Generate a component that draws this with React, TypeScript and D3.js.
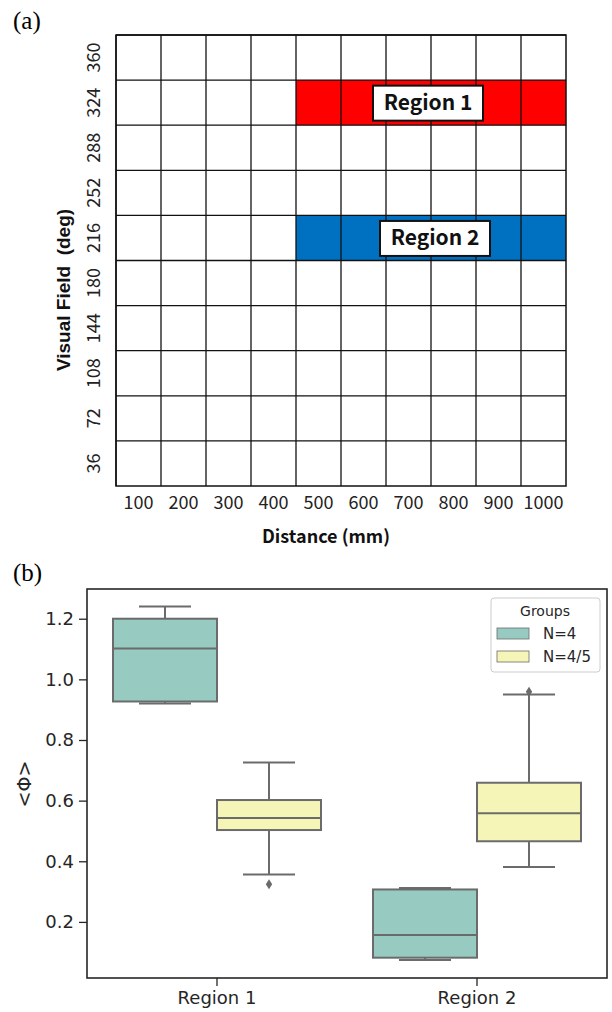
import React, { useEffect, useRef } from 'react';
import * as d3 from 'd3';

// panel (a): grid of distance x visual field
const distances = ['100', '200', '300', '400', '500', '600', '700', '800', '900', '1000'];
const fields = ['360', '324', '288', '252', '216', '180', '144', '108', '72', '36'];
const regions = [
  { name: 'Region 1', field: '324', from: '500', to: '1000', color: '#ff0000', labelAt: '800', shift: -3 },
  { name: 'Region 2', field: '216', from: '500', to: '1000', color: '#0070c0', labelAt: '800', shift: 4 },
];

// panel (b): box plot stats per region and group
const regionNames = ['Region 1', 'Region 2'];
const groups = ['N=4', 'N=4/5'];
const groupColors = ['#97cbc2', '#f5f5b8'];
const yTicks = [0.2, 0.4, 0.6, 0.8, 1.0, 1.2];
// [whiskerLow, q1, median, q3, whiskerHigh]
const statsN4 = [
  [0.92, 0.927, 1.102, 1.2, 1.24],
  [0.074, 0.082, 0.157, 0.307, 0.312],
];
const statsN45 = [
  [0.356, 0.503, 0.543, 0.602, 0.726],
  [0.381, 0.466, 0.558, 0.659, 0.95],
];
const outliersN4: number[][] = [[], []];
const outliersN45 = [[0.324], [0.959]];

const FONT_JP = '"Noto Sans CJK JP", "Noto Sans", sans-serif';
const FONT_DV = '"DejaVu Sans", Verdana, sans-serif';

export default function App() {
  const ref = useRef<SVGSVGElement>(null);

  useEffect(() => {
    const svg = d3.select(ref.current);
    svg.selectAll('*').remove();

    // ---------- (a) ----------
    svg.append('text').attr('x', 13).attr('y', 29)
      .attr('font-family', '"Liberation Serif", serif').attr('font-size', 25).text('(a)');

    const gx = d3.scaleBand().domain(distances).range([116, 566]);
    const gy = d3.scaleBand().domain(fields).range([35, 486]);

    const ga = svg.append('g');
    regions.forEach(r => {
      const x0 = gx(r.from) as number;
      const x1 = (gx(r.to) as number) + gx.bandwidth();
      ga.append('rect')
        .attr('x', x0).attr('y', gy(r.field) as number)
        .attr('width', x1 - x0).attr('height', gy.bandwidth())
        .attr('fill', r.color);
    });

    // grid lines
    distances.forEach(d => {
      ga.append('line')
        .attr('x1', gx(d) as number).attr('x2', gx(d) as number)
        .attr('y1', 35).attr('y2', 486)
        .attr('stroke', '#111').attr('stroke-width', 1.3);
    });
    fields.forEach(f => {
      ga.append('line')
        .attr('x1', 116).attr('x2', 566)
        .attr('y1', gy(f) as number).attr('y2', gy(f) as number)
        .attr('stroke', '#111').attr('stroke-width', 1.3);
    });
    ga.append('rect').attr('x', 116).attr('y', 35).attr('width', 450).attr('height', 451)
      .attr('fill', 'none').attr('stroke', '#111').attr('stroke-width', 1.5);

    // region labels
    regions.forEach(r => {
      const cx = (gx(r.labelAt) as number) + r.shift;
      const cy = (gy(r.field) as number) + gy.bandwidth() / 2;
      ga.append('rect')
        .attr('x', cx - 55).attr('y', cy - 17).attr('width', 110).attr('height', 35)
        .attr('fill', '#fff').attr('stroke', '#111').attr('stroke-width', 2);
      ga.append('text').attr('x', cx).attr('y', cy + 7.5)
        .attr('text-anchor', 'middle').attr('font-family', FONT_JP)
        .attr('font-weight', 'bold').attr('font-size', 21).attr('fill', '#111')
        .text(r.name);
    });

    // tick labels
    distances.forEach(d => {
      ga.append('text')
        .attr('x', (gx(d) as number) + gx.bandwidth() / 2).attr('y', 509)
        .attr('text-anchor', 'middle').attr('font-family', FONT_JP)
        .attr('font-size', 18).attr('fill', '#222').text(d);
    });
    fields.forEach(f => {
      const cy = (gy(f) as number) + gy.bandwidth() / 2;
      ga.append('text')
        .attr('transform', `translate(100,${cy}) rotate(-90)`)
        .attr('text-anchor', 'middle').attr('font-family', FONT_JP)
        .attr('font-size', 18).attr('fill', '#222').text(f);
    });

    ga.append('text').attr('x', 326).attr('y', 543)
      .attr('text-anchor', 'middle').attr('font-family', FONT_JP)
      .attr('font-weight', 'bold').attr('font-size', 18).attr('fill', '#111')
      .text('Distance (mm)');
    ga.append('text')
      .attr('transform', 'translate(70,290) rotate(-90)')
      .attr('text-anchor', 'middle').attr('font-family', '"Liberation Sans", Arial, sans-serif')
      .attr('font-weight', 'bold').attr('font-size', 19).attr('fill', '#111')
      .attr('xml:space', 'preserve')
      .text('Visual Field  (deg)');

    // ---------- (b) ----------
    svg.append('text').attr('x', 13).attr('y', 581)
      .attr('font-family', '"Liberation Serif", serif').attr('font-size', 25).text('(b)');

    const left = 87, right = 607, top = 589, bottom = 978;
    const x = d3.scaleBand().domain(regionNames).range([left, right]);
    const xg = d3.scaleBand().domain(groups).range([0, x.bandwidth() * 0.8]);
    const y = d3.scaleLinear().domain([0.015, 1.298]).range([bottom, top]);

    const gb = svg.append('g');
    const boxStroke = '#6b6b6b';
    const drawBoxes = (stats: number[][], outs: number[][], gi: number) => {
      regionNames.forEach((rn, ri) => {
        const [lo, q1, med, q3, hi] = stats[ri];
        const x0 = (x(rn) as number) + x.bandwidth() * 0.1 + (xg(groups[gi]) as number);
        const w = xg.bandwidth();
        const cx = x0 + w / 2;
        const g = gb.append('g').attr('stroke', boxStroke).attr('stroke-width', 2);
        g.append('line').attr('x1', cx).attr('x2', cx).attr('y1', y(q3)).attr('y2', y(hi));
        g.append('line').attr('x1', cx).attr('x2', cx).attr('y1', y(q1)).attr('y2', y(lo));
        g.append('line').attr('x1', cx - w / 4).attr('x2', cx + w / 4).attr('y1', y(hi)).attr('y2', y(hi));
        g.append('line').attr('x1', cx - w / 4).attr('x2', cx + w / 4).attr('y1', y(lo)).attr('y2', y(lo));
        g.append('rect').attr('x', x0).attr('y', y(q3))
          .attr('width', w).attr('height', y(q1) - y(q3))
          .attr('fill', groupColors[gi]);
        g.append('line').attr('x1', x0).attr('x2', x0 + w).attr('y1', y(med)).attr('y2', y(med));
        outs[ri].forEach(v => {
          gb.append('path')
            .attr('d', `M${cx},${y(v) - 5}L${cx + 3.2},${y(v)}L${cx},${y(v) + 5}L${cx - 3.2},${y(v)}Z`)
            .attr('fill', boxStroke);
        });
      });
    };
    drawBoxes(statsN4, outliersN4, 0);
    drawBoxes(statsN45, outliersN45, 1);

    // axes
    const yAxis = gb.append('g').attr('transform', `translate(${left},0)`)
      .call(d3.axisLeft(y).tickValues(yTicks).tickFormat(d3.format('.1f')).tickSize(8).tickPadding(5));
    const xAxis = gb.append('g').attr('transform', `translate(0,${bottom})`)
      .call(d3.axisBottom(x).tickSize(8).tickPadding(5));
    [yAxis, xAxis].forEach(a => {
      a.select('.domain').remove();
      a.selectAll('line').attr('stroke', '#262626').attr('stroke-width', 1.3);
      a.selectAll('text').attr('font-family', FONT_DV).attr('font-size', 18).attr('fill', '#262626');
    });
    gb.append('rect').attr('x', left).attr('y', top).attr('width', right - left).attr('height', bottom - top)
      .attr('fill', 'none').attr('stroke', '#262626').attr('stroke-width', 1.6);

    gb.append('text')
      .attr('transform', `translate(31,784) rotate(-90)`)
      .attr('text-anchor', 'middle').attr('font-family', FONT_DV)
      .attr('font-size', 19).attr('fill', '#262626')
      .text('<\u03A6>');

    // legend
    const lg = gb.append('g');
    lg.append('rect').attr('x', 491).attr('y', 598).attr('width', 109).attr('height', 74)
      .attr('rx', 3).attr('fill', '#fff').attr('fill-opacity', 0.8)
      .attr('stroke', '#cccccc').attr('stroke-width', 1);
    lg.append('text').attr('x', 545).attr('y', 616).attr('text-anchor', 'middle')
      .attr('font-family', FONT_DV).attr('font-size', 14).attr('fill', '#262626').text('Groups');
    groups.forEach((gname, i) => {
      lg.append('rect').attr('x', 497).attr('y', 628 + i * 23).attr('width', 32).attr('height', 11)
        .attr('fill', groupColors[i]).attr('stroke', boxStroke).attr('stroke-width', 0.8);
      lg.append('text').attr('x', 543).attr('y', 639 + i * 23)
        .attr('font-family', FONT_DV).attr('font-size', 15).attr('fill', '#262626').text(gname);
    });
  }, []);

  return (
    <svg ref={ref} width={612} height={1012}
      style={{ position: 'absolute', left: 0, top: 0, background: '#fff' }} />
  );
}
